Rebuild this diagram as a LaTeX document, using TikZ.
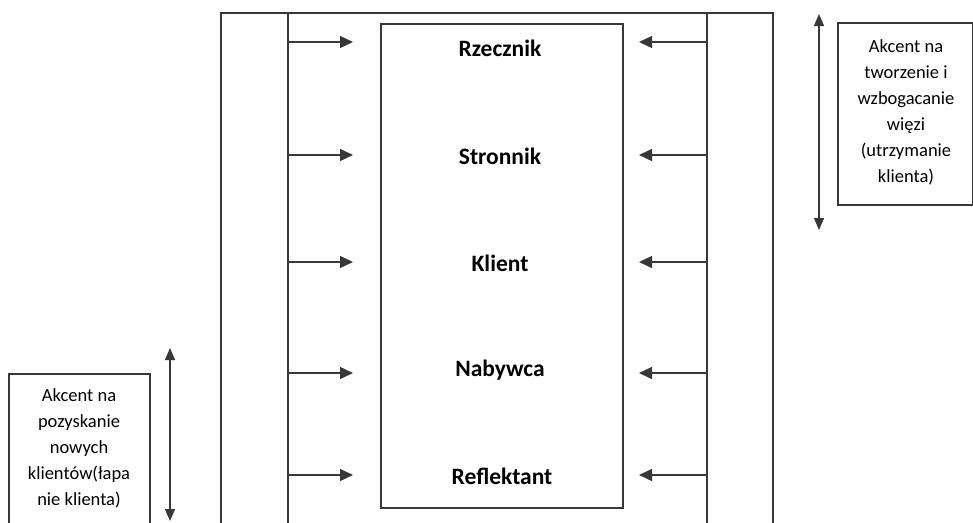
\documentclass[tikz,border=0pt]{standalone}
\usepackage{fontspec}
\setmainfont{Carlito}
\usetikzlibrary{arrows.meta}
\begin{document}
\begin{tikzpicture}[x=1pt,y=-1pt,
  ln/.style={line width=1.4pt, draw=black!78},
  arr/.style={ln, -{Triangle[length=13pt,width=12pt]}},
  darr/.style={ln, {Triangle[length=12pt,width=10pt]}-{Triangle[length=12pt,width=10pt]}},
  lbl/.style={font=\fontsize{23.5}{28}\selectfont\bfseries, text=black},
  side/.style={font=\fontsize{18.5}{26}\selectfont, align=center, text=black}]
\useasboundingbox (0,0) rectangle (973,522);
% frame
\draw[ln] (221,530) -- (221,13) -- (773,13) -- (773,530);
\coordinate (lt) at (288,13); \coordinate (lb) at (288,530);
\coordinate (rt) at (707,13); \coordinate (rb) at (707,530);
\draw[ln] (lt) -- (lb);
\draw[ln] (rt) -- (rb);
% center box
\node[ln, draw, minimum width=242pt, minimum height=484pt, inner sep=0pt] (box) at (502,266) {};
% labels
\node[lbl] (l1) at (500,48) {Rzecznik};
\node[lbl] (l2) at (500,156) {Stronnik};
\node[lbl] (l3) at (500,263) {Klient};
\node[lbl] (l4) at (500,370) {Nabywca};
\node[lbl] (l5) at (502,476) {Reflektant};
% arrows
\foreach \i/\y in {1/42,2/155,3/262,4/373,5/475}{
  \coordinate (a\i) at (288,\y); \coordinate (b\i) at (353,\y);
  \coordinate (c\i) at (707,\y); \coordinate (d\i) at (639,\y);
  \draw[arr] (a\i) -- (b\i);
  \draw[arr] (c\i) -- (d\i);
}
% right side box
\draw[ln] (838,23) rectangle (972.3,205);
\node[side] (rtext) at (906,112) {Akcent na\\tworzenie i\\wzbogacanie\\więzi\\(utrzymanie\\klienta)};
\coordinate (rd1) at (819,14); \coordinate (rd2) at (819,230);
\draw[darr] (rd1) -- (rd2);
% left side box
\draw[ln] (9,530) -- (9,374) -- (150,374) -- (150,530);
\node[side] (ltext) at (79,448) {Akcent na\\pozyskanie\\nowych\\klientów(łapa\\nie klienta)};
\coordinate (ld1) at (170,348); \coordinate (ld2) at (170,521);
\draw[darr] (ld1) -- (ld2);
\end{tikzpicture}
\end{document}
